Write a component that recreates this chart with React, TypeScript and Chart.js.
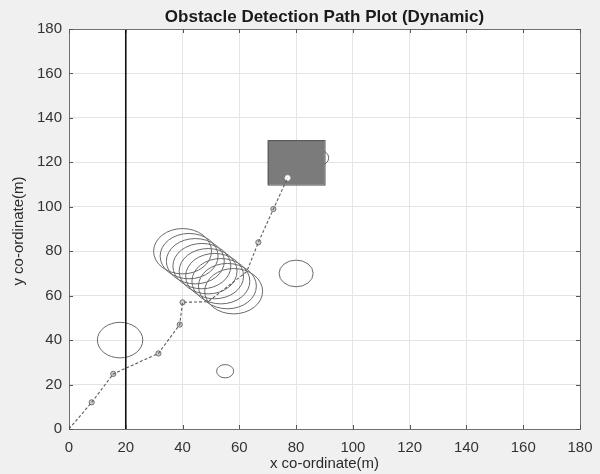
import React, { useEffect, useRef } from "react";
import { Chart, registerables } from "chart.js";

Chart.register(...registerables);

const TITLE = "Obstacle Detection Path Plot (Dynamic)";
const X_LABEL = "x co-ordinate(m)";
const Y_LABEL = "y co-ordinate(m)";

const AXIS_MIN = 0;
const AXIS_MAX = 180;
const TICK_STEP = 20;

// Planned path (dashed)
const pathX = [0, 8, 15.6, 31.5, 39, 40, 49, 62.6, 66.7, 72, 77];
const pathY = [0, 12, 24.8, 34, 47, 57, 57.3, 70.8, 84, 99, 113];

// Waypoint circle markers
const markerX = [8, 15.6, 31.5, 39, 40, 66.7, 72];
const markerY = [12, 24.8, 34, 47, 57, 84, 99];

// Goal point
const goalX = [77];
const goalY = [113];

// Wall
const wallX = [20, 20];
const wallY = [0, 180];

// Static circular obstacles
const staticCx = [18, 80, 55, 88];
const staticCy = [40, 70, 26, 122];
const staticR = [8, 6, 3, 3.5];

// Moving obstacle positions
const movingCx = [40, 42.3, 44.5, 46.8, 49, 51.3, 53.5, 55.8, 58];
const movingCy = [80, 77.8, 75.5, 73.3, 71, 68.8, 66.5, 64.3, 62];
const movingR = [10.2, 10.2, 10.2, 10.2, 10.2, 10.2, 10.2, 10.2, 10.2];

// Rectangular obstacle
const rectX = [70, 90];
const rectY = [110, 130];

const FONT = "'Liberation Sans', Arial, Helvetica, sans-serif";

const toPts = (xs: number[], ys: number[]) => xs.map((x, i) => ({ x, y: ys[i] }));

export default function App() {
  const ref = useRef<HTMLCanvasElement | null>(null);

  useEffect(() => {
    if (!ref.current) return;

    const bgPlugin = {
      id: "matlabBg",
      beforeDraw(chart: any) {
        const { ctx, chartArea: a } = chart;
        ctx.save();
        ctx.fillStyle = "#f0f0f0";
        ctx.fillRect(0, 0, chart.width, chart.height);
        ctx.fillStyle = "#ffffff";
        ctx.fillRect(a.left, a.top, a.right - a.left, a.bottom - a.top);
        ctx.restore();
      },
      beforeDatasetsDraw(chart: any) {
        const { ctx, chartArea: a } = chart;
        const xs = chart.scales.x;
        const ys = chart.scales.y;
        ctx.save();
        ctx.beginPath();
        ctx.rect(a.left, a.top, a.right - a.left, a.bottom - a.top);
        ctx.clip();
        const ell = (cx: number, cy: number, r: number) => {
          const px = xs.getPixelForValue(cx);
          const py = ys.getPixelForValue(cy);
          const rx = Math.abs(xs.getPixelForValue(cx + r) - px);
          const ry = Math.abs(ys.getPixelForValue(cy + r) - py);
          ctx.beginPath();
          ctx.ellipse(px, py, rx, ry, 0, 0, Math.PI * 2);
          ctx.stroke();
        };
        ctx.strokeStyle = "#6a6a6a";
        ctx.lineWidth = 1;
        for (let i = 0; i < staticCx.length; i++) ell(staticCx[i], staticCy[i], staticR[i]);
        for (let i = 0; i < movingCx.length; i++) ell(movingCx[i], movingCy[i], movingR[i]);
        // rectangle
        const x0 = xs.getPixelForValue(rectX[0]);
        const x1 = xs.getPixelForValue(rectX[1]);
        const y0 = ys.getPixelForValue(rectY[1]);
        const y1 = ys.getPixelForValue(rectY[0]);
        ctx.fillStyle = "#7b7b7b";
        ctx.fillRect(x0, y0, x1 - x0, y1 - y0);
        ctx.strokeStyle = "#555555";
        ctx.strokeRect(x0 + 0.5, y0 + 0.5, x1 - x0, y1 - y0);
        ctx.restore();
      },
      afterDraw(chart: any) {
        const { ctx, chartArea: a } = chart;
        const xs = chart.scales.x;
        const ys = chart.scales.y;
        ctx.save();
        // box
        ctx.strokeStyle = "#707070";
        ctx.lineWidth = 1;
        ctx.strokeRect(Math.round(a.left) + 0.5, Math.round(a.top) + 0.5, Math.round(a.right - a.left), Math.round(a.bottom - a.top));
        // inner ticks
        ctx.strokeStyle = "#555555";
        for (let v = AXIS_MIN; v <= AXIS_MAX; v += TICK_STEP) {
          const px = Math.round(xs.getPixelForValue(v)) + 0.5;
          ctx.beginPath();
          ctx.moveTo(px, a.bottom);
          ctx.lineTo(px, a.bottom - 4);
          ctx.moveTo(px, a.top);
          ctx.lineTo(px, a.top + 4);
          ctx.stroke();
          const py = Math.round(ys.getPixelForValue(v)) + 0.5;
          ctx.beginPath();
          ctx.moveTo(a.left, py);
          ctx.lineTo(a.left + 4, py);
          ctx.moveTo(a.right, py);
          ctx.lineTo(a.right - 4, py);
          ctx.stroke();
        }
        // titles
        ctx.fillStyle = "#1a1a1a";
        ctx.font = `bold 17px ${FONT}`;
        ctx.textAlign = "center";
        ctx.textBaseline = "middle";
        ctx.fillText(TITLE, (a.left + a.right) / 2, 17);
        ctx.fillStyle = "#2b2b2b";
        ctx.font = `15px ${FONT}`;
        ctx.fillText(X_LABEL, (a.left + a.right) / 2, 464);
        ctx.translate(19, (a.top + a.bottom) / 2 + 2);
        ctx.rotate(-Math.PI / 2);
        ctx.fillText(Y_LABEL, 0, 0);
        ctx.restore();
      },
    };

    const chart = new Chart(ref.current, {
      type: "scatter",
      data: {
        datasets: [
          {
            label: "wall",
            data: toPts(wallX, wallY),
            showLine: true,
            borderColor: "#111111",
            borderWidth: 1.6,
            pointRadius: 0,
          },
          {
            label: "path",
            data: toPts(pathX, pathY),
            showLine: true,
            borderColor: "#5e5e5e",
            borderWidth: 1.1,
            borderDash: [3, 2],
            pointRadius: 0,
          },
          {
            label: "waypoints",
            data: toPts(markerX, markerY),
            pointRadius: 2.6,
            pointBackgroundColor: "#cfcfcf",
            pointBorderColor: "#707070",
            pointBorderWidth: 1,
          },
          {
            label: "goal",
            data: toPts(goalX, goalY),
            pointRadius: 2.6,
            pointBackgroundColor: "#ffffff",
            pointBorderColor: "#e0e0e0",
            pointBorderWidth: 1,
          },
        ],
      },
      options: {
        animation: false,
        responsive: false,
        maintainAspectRatio: false,
        layout: { padding: { top: 29, right: 20, left: 0, bottom: 0 } },
        plugins: { legend: { display: false }, tooltip: { enabled: false }, title: { display: false } },
        scales: {
          x: {
            type: "linear",
            min: AXIS_MIN,
            max: AXIS_MAX,
            afterFit(scale: any) {
              scale.height = 45;
              scale.paddingLeft = 0;
              scale.paddingRight = 0;
            },
            ticks: {
              stepSize: TICK_STEP,
              padding: 10,
              color: "#333333",
              font: { family: FONT, size: 15 },
              maxRotation: 0,
            },
            grid: { color: "#e4e4e4", drawTicks: false },
            border: { display: false },
          },
          y: {
            type: "linear",
            min: AXIS_MIN,
            max: AXIS_MAX,
            afterFit(scale: any) {
              scale.width = 69;
              scale.paddingTop = 0;
              scale.paddingBottom = 0;
            },
            ticks: {
              stepSize: TICK_STEP,
              padding: 7,
              color: "#333333",
              font: { family: FONT, size: 15 },
            },
            grid: { color: "#e4e4e4", drawTicks: false },
            border: { display: false },
          },
        },
      },
      plugins: [bgPlugin],
    } as any);

    return () => chart.destroy();
  }, []);

  return (
    <div style={{ position: "absolute", left: 0, top: 0, width: 600, height: 474 }}>
      <canvas ref={ref} width={600} height={474} style={{ width: 600, height: 474, display: "block" }} />
    </div>
  );
}
